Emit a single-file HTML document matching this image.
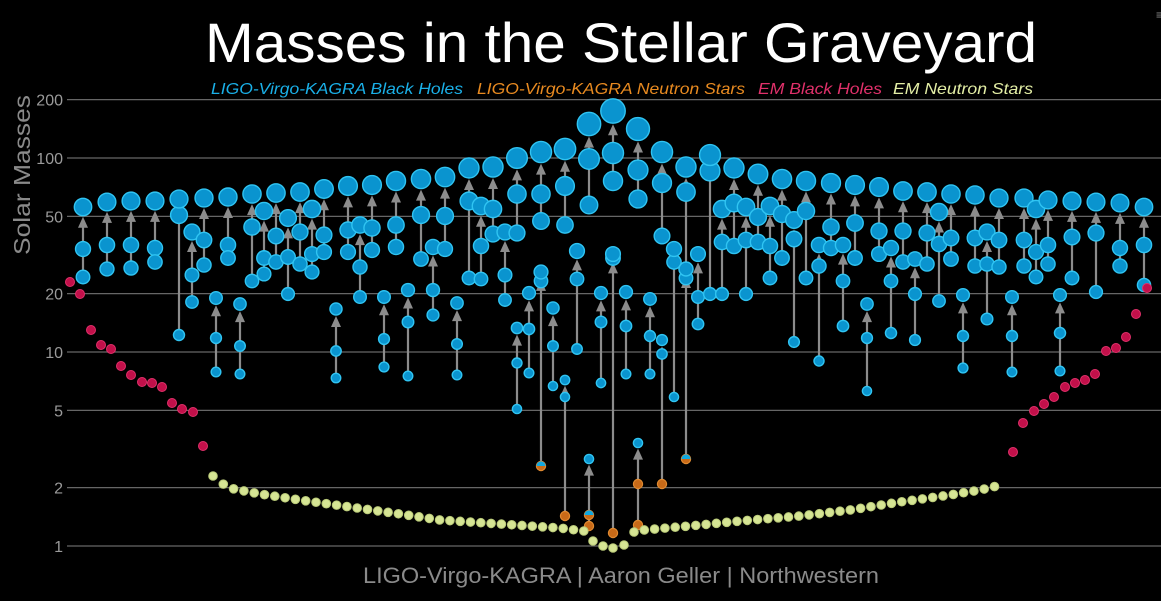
<!DOCTYPE html>
<html><head><meta charset="utf-8"><style>
html,body{margin:0;padding:0;background:#000;overflow:hidden}
svg{display:block}
</style></head><body>
<svg id="c" xmlns="http://www.w3.org/2000/svg" width="1161" height="601" viewBox="0 0 1161 601">
<rect width="1161" height="601" fill="#000"/>
<text x="621" y="62" fill="#fff" font-family="Liberation Sans, sans-serif" font-size="56" text-anchor="middle" textLength="832" lengthAdjust="spacingAndGlyphs">Masses in the Stellar Graveyard</text>
<g font-family="Liberation Sans, sans-serif" font-size="16" font-style="italic">
<text x="211" y="94" fill="#1ab0e8" textLength="252" lengthAdjust="spacingAndGlyphs">LIGO-Virgo-KAGRA Black Holes</text>
<text x="477" y="94" fill="#e88a20" textLength="268" lengthAdjust="spacingAndGlyphs">LIGO-Virgo-KAGRA Neutron Stars</text>
<text x="758" y="94" fill="#e0306a" textLength="124" lengthAdjust="spacingAndGlyphs">EM Black Holes</text>
<text x="893" y="94" fill="#e3eea5" textLength="140" lengthAdjust="spacingAndGlyphs">EM Neutron Stars</text>
</g>
<text transform="translate(30,175) rotate(-90)" fill="#8a8a8a" font-family="Liberation Sans, sans-serif" font-size="23" text-anchor="middle" textLength="160" lengthAdjust="spacingAndGlyphs">Solar Masses</text>
<text x="621" y="583" fill="#8a8a8a" font-family="Liberation Sans, sans-serif" font-size="22" text-anchor="middle" textLength="516" lengthAdjust="spacingAndGlyphs">LIGO-Virgo-KAGRA | Aaron Geller | Northwestern</text>
<text x="1156" y="19" fill="#888" font-family="Liberation Sans, sans-serif" font-size="12">≡</text>
<g id="grid"></g>
<g id="lines"></g>
<g id="dots"></g>
</svg>
<script>
(function(){
var NS="http://www.w3.org/2000/svg";
function el(t,a,p){var e=document.createElementNS(NS,t);for(var k in a)e.setAttribute(k,a[k]);if(p)p.appendChild(e);return e;}
var grid=document.getElementById('grid'),lines=document.getElementById('lines'),dots=document.getElementById('dots');
function Y(m){return 546-194*Math.log10(m);}
function M(y){return Math.pow(10,(546-y)/194);}
[200,100,50,20,10,5,2,1].forEach(function(t){
 var y=Y(t);
 el('line',{x1:67,x2:1161,y1:y,y2:y,stroke:'#666','stroke-width':1.2},grid);
 var tx=el('text',{x:63,y:y+6,fill:'#9a9a9a','font-family':'Liberation Sans, sans-serif','font-size':16,'text-anchor':'end'},grid);
 tx.textContent=t;
});
var D=[
[83,207,249,277],[107,202,245,269],[131,201,245,268],[155,201,248,262],[179,199,215,335],[192,232,275,302],
[204,198,240,265],[216,298,338,372],[228,197,245,258],[240,304,346,374],[252,194,227,281],[264,211,258,274],
[276,193,236,262],[288,218,257,294],[300,192,232,264],[312,209,254,272],[324,189,235,252],[336,309,351,378],
[348,186,230,252],[360,225,267,297],[372,185,228,250],[384,297,339,367],[396,181,225,247],[408,290,322,376],
[421,179,215,259],[433,247,290,315],[445,177,216,249],[457,303,344,375],[469,168,201,278],[481,206,246,279],
[493,167,209,234],[505,232,275,300],[517,158,194,233],[517,328,363,409],[529,293,329,373],[541,152,194,221],
[541,272,281,466,0,2],[553,308,346,386],[565,149,186,225],[565,380,397,516,0,1],[577,251,279,349],[589,124,159,205],
[589,459,515,526,2,1],[601,293,322,383],[613,111,153,181],[613,254,258,533,0,1],[626,292,326,374],[638,129,170,199],
[638,443,484,525,1,1],[650,299,336,374],[662,152,183,236],[662,340,354,484,0,1],[674,249,262,397],[686,167,192,278],
[686,269,269,459,0,2],[698,254,297,324],[710,155,171,294],[722,209,242,294],[734,168,203,246],[746,207,240,294],
[758,174,217,242],[770,206,246,278],[782,179,214,258],[794,220,239,342],[806,181,211,278],[819,245,266,361],
[831,183,227,248],[843,245,281,326],[855,185,223,258],[867,304,338,391],[879,187,231,254],[891,248,281,333],
[903,191,231,262],[915,259,294,340],[927,192,233,264],[939,212,244,301],[951,194,238,259],[963,295,336,368],
[975,195,238,266],[987,232,264,319],[999,198,240,267],[1012,297,336,372],[1024,198,240,266],[1036,209,252,277],
[1048,200,245,264],[1060,295,333,371],[1072,201,237,278],[1096,202,233,292],[1120,203,248,266],[1144,207,245,285]
];
function R(y){return Math.max(4.6,2.6*Math.pow(M(y),0.3));}
var BF='#0a94cf',BS='#30c4f2',OF='#c86a18',OS='#e08a30';
D.forEach(function(d){
 var x=d[0],yf=d[1],yb=Math.max(d[2],d[3]);
 var rf=R(yf);
 var tip=yf+rf+1;
 el('line',{x1:x,x2:x,y1:yb,y2:tip+8,stroke:'#8c8c8c','stroke-width':2.2},lines);
 el('polygon',{points:(x-5)+','+(tip+11)+' '+x+','+tip+' '+(x+5)+','+(tip+11),fill:'#8c8c8c'},lines);
});
function dot(x,y,r,kind){
 if(kind==1){el('circle',{cx:x,cy:y,r:r,fill:OF,stroke:OS,'stroke-width':1.2},dots);}
 else if(kind==2){el('circle',{cx:x,cy:y,r:r,fill:OF,stroke:OS,'stroke-width':1.2},dots);
   el('path',{d:'M'+(x-r)+','+y+' A'+r+','+r+' 0 0 1 '+(x+r)+','+y+' Z',fill:'#10a8e0'},dots);}
 else el('circle',{cx:x,cy:y,r:r,fill:BF,stroke:BS,'stroke-width':1.4},dots);
}
D.forEach(function(d){
 var x=d[0];
 dot(x,d[2],R(d[2]),d[4]||0);
 dot(x,d[3],R(d[3]),d[5]||0);
 dot(x,d[1],R(d[1]),0);
});
var EB=[[70,282],[80,294],[91,330],[101,345],[111,349],[121,366],[131,375],[142,382],[152,383],[162,387],[172,403],[182,409],[193,412],[203,446],
[1013,452],[1023,423],[1034,411],[1044,404],[1054,397],[1065,387],[1075,383],[1085,380],[1095,374],[1106,351],[1116,348],[1126,337],[1136,314],[1147,288]];
EB.forEach(function(p){el('circle',{cx:p[0],cy:p[1],r:4.5,fill:'#c2104a',stroke:'#e0306a','stroke-width':1},dots);});
var K=[[213,476],[223,484],[234,489],[260,494],[300,500],[350,507],[400,514],[440,520],[500,524],[560,528],[583,531]];
var K2=[[634,532],[644,530],[700,525],[740,521],[800,516],[850,510],[900,502],[950,495],[980,490],[993,487],[1003,484]];
function interp(k,x){for(var i=0;i<k.length-1;i++){if(x>=k[i][0]&&x<=k[i+1][0]){var t=(x-k[i][0])/(k[i+1][0]-k[i][0]);return k[i][1]+t*(k[i+1][1]-k[i][1]);}}return k[k.length-1][1];}
var NSD=[];
for(var x=213;x<=584;x+=10.3)NSD.push([x,interp(K,x)]);
NSD.push([593,541],[603,546],[613,548],[624,545]);
for(var x=634;x<=1004;x+=10.3)NSD.push([x,interp(K2,x)]);
NSD.forEach(function(p){el('circle',{cx:p[0],cy:p[1],r:4.3,fill:'#d6e594',stroke:'#b9c978','stroke-width':1},dots);});
})();
</script>
</body></html>
